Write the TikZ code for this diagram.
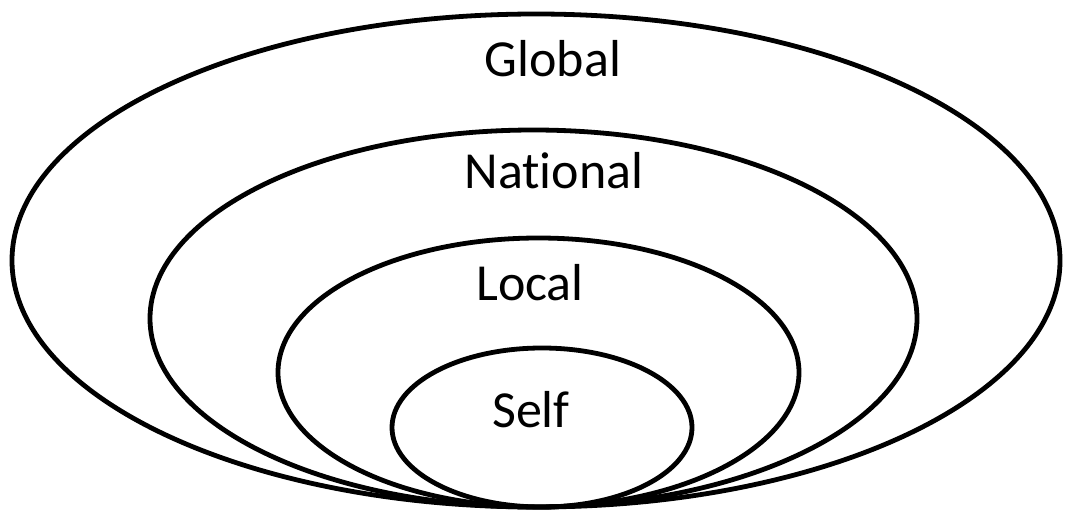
\documentclass[tikz,border=0pt]{standalone}
\usepackage{fontspec}
\setmainfont[Ligatures=NoCommon]{Carlito}
\begin{document}
\begin{tikzpicture}[x=1pt,y=-1pt,
  ring/.style={draw=black,line width=4.8pt},
  lbl/.style={font=\fontsize{52}{60}\selectfont,anchor=base,inner sep=0pt}]
\useasboundingbox (0,0) rectangle (1065,511);
\draw[ring] (536,260.5) ellipse [x radius=524, y radius=246.5];
\draw[ring] (533.5,318.5) ellipse [x radius=383.5, y radius=188.5];
\draw[ring] (538.5,372.5) ellipse [x radius=260.5, y radius=134.5];
\draw[ring] (542,427.5) ellipse [x radius=150, y radius=79.5];
\node[lbl] (global) at (553,76) {Global};
\node[lbl] (national) at (554,188) {National};
\node[lbl] (local) at (530,300) {Local};
\node[lbl] (self) at (531,427) {Self};
\end{tikzpicture}
\end{document}
